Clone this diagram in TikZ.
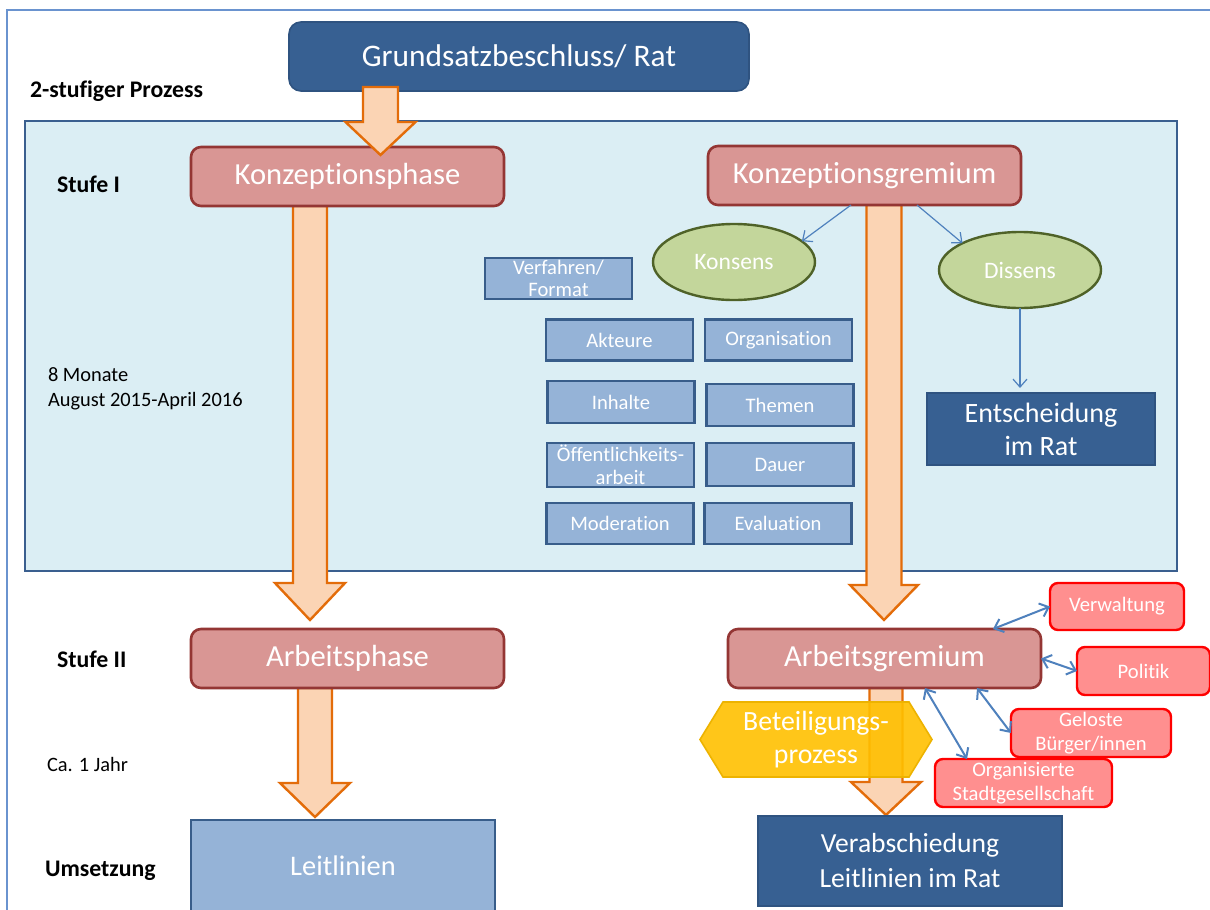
\documentclass[tikz,border=0pt]{standalone}
\usepackage{fontspec}
\setmainfont{Carlito}[Ligatures=NoCommon]
\usetikzlibrary{shapes.geometric,shapes.symbols,calc,arrows.meta}
\definecolor{dblue}{HTML}{376092}
\definecolor{dbluebd}{HTML}{2F5380}
\definecolor{pinkf}{HTML}{D99694}
\definecolor{pinkd}{HTML}{943634}
\definecolor{peach}{HTML}{FBD4B4}
\definecolor{orng}{HTML}{E36C09}
\definecolor{bgbox}{HTML}{DBEEF4}
\definecolor{bgbd}{HTML}{3A5F8F}
\definecolor{sbf}{HTML}{95B3D7}
\definecolor{sbd}{HTML}{385D8A}
\definecolor{grf}{HTML}{C3D69B}
\definecolor{grd}{HTML}{4F6228}
\definecolor{redf}{HTML}{FF8F8F}
\definecolor{redd}{HTML}{FF0000}
\definecolor{yel}{HTML}{FFC000}
\definecolor{yeld}{HTML}{EDB300}
\definecolor{lblue}{HTML}{4F81BD}
\definecolor{frame}{HTML}{6A93CF}
\begin{document}
\begin{tikzpicture}[x=0.5pt,y=-0.5pt,
  every node/.style={inner sep=0pt, outer sep=0pt, align=center},
  darkbox/.style={fill=dblue, draw=dbluebd, line width=0.8pt, text=white},
  phasebox/.style={fill=pinkf, draw=pinkd, line width=1.3pt, rounded corners=5pt, text=white,
     minimum width=156.5pt, minimum height=29.5pt, font=\fontsize{15.3}{18}\selectfont},
  smallbox/.style={fill=sbf, draw=sbd, line width=1.2pt, text=white, minimum width=73.5pt,
     minimum height=20.5pt, font=\fontsize{10.3}{11.3}\selectfont},
  oval/.style={ellipse, fill=grf, draw=grd, line width=1.2pt, text=white,
     minimum width=81pt, minimum height=38pt, font=\fontsize{11.8}{14}\selectfont},
  redbox/.style={fill=redf, draw=redd, line width=1.2pt, rounded corners=4pt, text=white,
     minimum height=24pt, font=\fontsize{10.3}{12.3}\selectfont},
  blockarrow/.style={fill=peach, draw=orng, line width=1.2pt, line join=miter},
  thinarrow/.style={draw=lblue, line width=0.6pt, -{Straight Barb[length=4pt,width=7pt]}},
  dblarrow/.style={draw=lblue, line width=1pt, {Straight Barb[length=4pt,width=7pt]}-{Straight Barb[length=4pt,width=7pt]}},
  lbl/.style={anchor=west, font=\fontsize{11.9}{14}\selectfont\bfseries},
  note/.style={anchor=west, align=left, font=\fontsize{10.2}{12.5}\selectfont}
]
\useasboundingbox (0,0) rectangle (1210,910);
\fill[white] (0,0) rectangle (1210,910);
% outer frame
\draw[frame, line width=0.8pt] (7,910) -- (7,10) -- (1210,10);

% Stufe I background
\draw[fill=bgbox, draw=bgbd, line width=1.2pt] (25,121) rectangle (1177,571);

% block arrows behind boxes
\newcommand{\barr}[6]{% cx, ytop, headbase, tip, shafthalf, headhalf
  \draw[blockarrow] (#1-#5,#2) -- (#1-#5,#3) -- (#1-#6,#3) -- (#1,#4) -- (#1+#6,#3) -- (#1+#5,#3) -- (#1+#5,#2) -- cycle;}
\barr{310}{206}{583}{620}{17}{35}
\barr{884}{205}{585}{620}{17.5}{34}
\barr{315}{688}{783}{817}{17}{35}
\barr{886}{688}{782}{815}{16.5}{35}

% title
\node[darkbox, rounded corners=6pt, minimum width=230pt, minimum height=34.5pt,
  font=\fontsize{15.7}{18}\selectfont] (gr) at (519,56.5) {Grundsatzbeschluss/ Rat};

% labels
\node[lbl] (l1) at (30,91) {2-stufiger Prozess};
\node[lbl] (l2) at (57,184) {Stufe I};
\node[note] (l3) at (48,388.5) {8 Monate\\August 2015-April 2016};
\node[lbl] (l4) at (57,659) {Stufe II};
\node[note] (l5) at (47,764) {Ca. 1 Jahr};
\node[lbl] (l6) at (45,871) {Umsetzung};

% phase boxes
\node[phasebox] (kp) at (347.5,176.5) {Konzeptionsphase};
\node[phasebox] (kg) at (864.5,175.5) {Konzeptionsgremium};
\node[phasebox] (ap) at (347.5,658.5) {Arbeitsphase};
\node[phasebox] (ag) at (884.5,658.5) {Arbeitsgremium};

% ovals
\node[oval] (kon) at (734,262) {Konsens};
\node[oval] (dis) at (1020,270) {Dissens};

% Entscheidung
\node[darkbox, minimum width=114pt, minimum height=36pt, font=\fontsize{14}{16.5}\selectfont]
  (ent) at (1041,429) {Entscheidung\\im Rat};

% small boxes
\node[smallbox] (vf) at (558.5,278.5) {Verfahren/\\Format};
\node[smallbox] (akt) at (619.5,340) {Akteure};
\node[smallbox] (org) at (778.5,340) {Organisation};
\node[smallbox, minimum height=21pt] (inh) at (621,402) {Inhalte};
\node[smallbox, minimum height=21pt] (the) at (780,405) {Themen};
\node[smallbox, minimum height=22pt] (oef) at (620.5,465) {Öffentlichkeits-\\arbeit};
\node[smallbox, minimum height=21.5pt] (dau) at (780,464.5) {Dauer};
\node[smallbox] (mod) at (620,523.5) {Moderation};
\node[smallbox] (eva) at (778,523.5) {Evaluation};

% bottom boxes
\node[fill=sbf, draw=sbd, line width=1.2pt, text=white, minimum width=152pt, minimum height=46pt,
  font=\fontsize{14.2}{16}\selectfont] (lei) at (343,866) {Leitlinien};
\node[darkbox, minimum width=152pt, minimum height=45pt, font=\fontsize{13.8}{17.5}\selectfont]
  (ver) at (910,861) {Verabschiedung\\Leitlinien im Rat};

% first block arrow (on top)
\barr{380.5}{87}{122}{155}{17.5}{35}

% red boxes
\node[redbox, minimum width=67pt, minimum height=23.5pt] (verw) at (1117,606.5) {Verwaltung};
\node[redbox, minimum width=66.5pt] (pol) at (1143.5,671) {Politik};
\node[redbox, minimum width=80pt] (gel) at (1091,733) {Geloste\\Bürger/innen};
\node[redbox, minimum width=88.5pt] (org2) at (1023.5,783) {Organisierte\\Stadtgesellschaft};

% hexagon
\node[signal, signal to=west and east, signal pointer angle=117, fill=yel, fill opacity=0.9,
  draw=yeld, line width=0.8pt, text opacity=1, text=white, minimum width=116pt, minimum height=37.5pt,
  font=\fontsize{13.9}{16.5}\selectfont] (bp) at (816,739.5) {Beteiligungs-\\prozess};

% thin arrows
\draw[thinarrow] ($(kg.south)+(-13.5,0)$) -- (kon.17);
\draw[thinarrow] ($(kg.south)+(52.5,0)$) -- (dis.155);
\draw[thinarrow, shorten >=2.5pt] (dis.south) -- (dis.south |- ent.north);

% double arrows
\draw[dblarrow] ($(ag.north east)+(-48,0)$) -- (verw.west);
\draw[dblarrow] (ag.east) -- (pol.west);
\draw[dblarrow] ($(ag.south)+(92.5,0)$) -- (gel.west);
\draw[dblarrow] ($(ag.south)+(40.5,0)$) -- ($(org2.north)+(-56.5,0)$);
\end{tikzpicture}
\end{document}
